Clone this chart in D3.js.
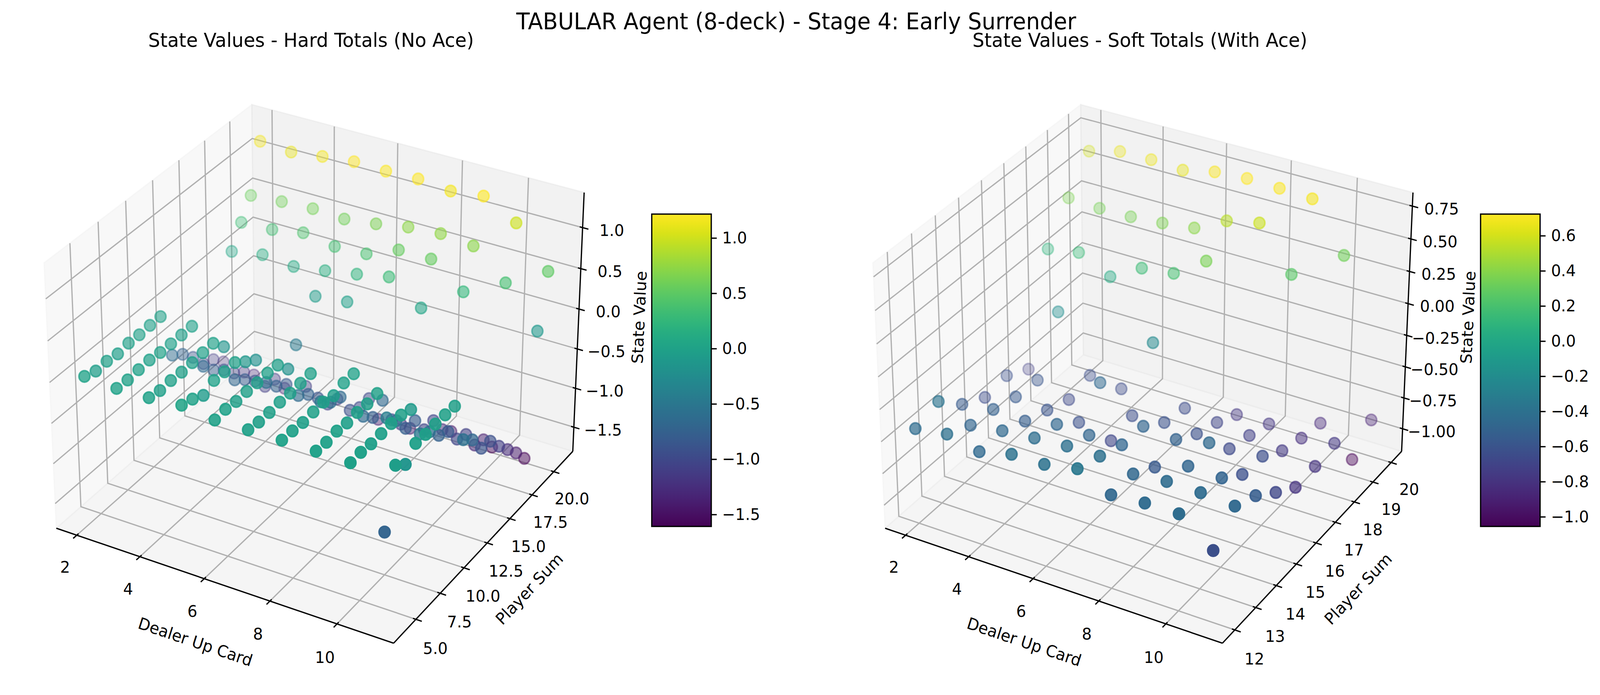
<!DOCTYPE html>
<html>
<head>
<meta charset="utf-8">
<script src="https://cdn.jsdelivr.net/npm/d3@7"></script>
<style>
  html, body { margin: 0; padding: 0; background: #fff; overflow: hidden; width: 100%; height: 100%; }
  svg { display: block; width: 100vw; height: 100vh; }
  text { font-family: "DejaVu Sans", sans-serif; fill: #000; }
</style>
</head>
<body>
<svg id="chart" viewBox="0 0 4274 1779" preserveAspectRatio="none"></svg>
<script>
const suptitle = "TABULAR Agent (8-deck) - Stage 4: Early Surrender";

const dealerCards = [2, 3, 4, 5, 6, 7, 8, 9, 10, 11];
const hardSums = [4, 5, 6, 7, 8, 9, 10, 11, 12, 13, 14, 15, 16, 17, 18, 19, 20, 21];
const softSums = [12, 13, 14, 15, 16, 17, 18, 19, 20];

// one row per dealer card, one column per player sum
const hardValues = [
  [0.015, -0.032, -0.023, -0.043, -0.021, -0.027, -0.019, -0.018, -0.61, -0.71, -0.86, -1.05, -1.11, -1.25, 0.065, 0.33, 0.57, 1.15],
  [-0.008, -0.018, -0.005, 0.002, -0.016, -0.02, -0.02, -0.02, -0.63, -0.79, -0.9, -1.05, -1.15, -1.3, 0.135, 0.35, 0.6, 1.12],
  [0.003, -0.024, -0.015, -0.025, -0.02, -0.009, -0.003, -0.155, -0.68, -0.79, -0.92, -1.1, -1.12, -1.35, 0.1, 0.42, 0.62, 1.17],
  [0.037, -0.004, -0.072, -0.004, -0.011, -0.009, -0.11, -0.2, -0.59, -0.75, -0.84, -0.45, -1.09, -0.055, 0.16, 0.36, 0.6, 1.21],
  [-0.016, -0.002, -0.022, -0.015, -0.022, -0.016, -0.03, -0.19, -0.63, -0.73, -0.89, -1.08, -1.13, -0.01, 0.23, 0.38, 0.65, 1.2],
  [-0.007, -0.03, -0.03, -0.02, -0.025, -0.018, -0.012, -0.47, -0.59, -0.64, -0.92, -1.0, -1.0, -1.38, 0.31, 0.54, 0.72, 1.21],
  [-0.004, -0.01, -0.025, -0.014, -0.01, -0.045, -0.004, -0.004, -0.64, -0.77, -0.67, -1.03, -1.2, -1.37, 0.04, 0.54, 0.75, 1.17],
  [-0.007, -0.018, -0.002, -0.02, -0.009, -0.02, -0.009, -0.42, -0.57, -0.78, -0.8, -1.03, -1.03, -1.26, -1.4, 0.25, 0.71, 1.216],
  [-0.015, -0.01, -0.026, -0.022, -0.016, -0.03, -0.078, -0.49, -0.58, -0.74, -0.81, -1.02, -1.08, -1.33, -1.38, -1.59, 0.37, 1.0],
  [-0.71, -0.034, -0.143, -0.01, -0.02, -0.012, -0.017, -0.027, -0.55, -0.67, -0.89, -0.92, -1.1, -1.26, -1.42, -1.608, -0.11, 0.52]
];

const softValues = [
  [-0.436, -0.378, -0.553, -0.65, -0.626, -0.723, 0.098, 0.367, 0.604],
  [-0.399, -0.485, -0.515, -0.568, -0.585, -0.188, 0.141, 0.353, 0.667],
  [-0.455, -0.449, -0.528, -0.594, -0.663, -0.62, 0.021, 0.355, 0.669],
  [-0.394, -0.425, -0.474, -0.613, -0.451, -0.651, 0.16, 0.375, 0.654],
  [-0.39, -0.407, -0.479, -0.679, -0.635, -0.208, 0.191, 0.406, 0.707],
  [-0.342, -0.404, -0.474, -0.485, -0.61, -0.65, 0.357, 0.53, 0.723],
  [-0.459, -0.46, -0.566, -0.509, -0.62, -0.685, -0.776, 0.583, 0.715],
  [-0.438, -0.435, -0.477, -0.454, -0.658, -0.709, -0.772, 0.258, 0.702],
  [-0.436, -0.438, -0.486, -0.619, -0.635, -0.75, -0.806, -0.841, 0.337],
  [-0.63, -0.457, -0.54, -0.677, -0.798, -0.793, -0.767, -1.055, -0.89]
];

const dealerTicks = [2, 4, 6, 8, 10];
const hardSumTicks = [5, 7.5, 10, 12.5, 15, 17.5, 20];
const softSumTicks = [12, 13, 14, 15, 16, 17, 18, 19, 20];
const hardZTicks = [-1.5, -1, -0.5, 0, 0.5, 1];
const softZTicks = [-1, -0.75, -0.5, -0.25, 0, 0.25, 0.5, 0.75];
const hardBarTicks = [-1.5, -1, -0.5, 0, 0.5, 1];
const softBarTicks = [-1, -0.8, -0.6, -0.4, -0.2, 0, 0.2, 0.4, 0.6];
const hardRange = [-1.608, 1.216];
const softRange = [-1.055, 0.723];

const svg = d3.select("#chart");
const fontTick = 41.67;
const lineW = 3.33;

// view of the 3d box, same numbers matplotlib uses by default
const elev = 30 * Math.PI / 180, azim = -60 * Math.PI / 180, dist = 10;
const boxNorm = Math.hypot(4, 4, 3);
const box = [4, 4, 3].map(d => d * 1.8294640721620434 * 25 / 24 / boxNorm);
const n = [Math.cos(elev) * Math.cos(azim), Math.cos(elev) * Math.sin(azim), Math.sin(elev)];
const uLen = Math.hypot(n[0], n[1]);
const u = [-n[1] / uLen, n[0] / uLen, 0];
const v = [n[1] * u[2] - n[2] * u[1], n[2] * u[0] - n[0] * u[2], n[0] * u[1] - n[1] * u[0]];
const dot = (a, b) => a[0] * b[0] + a[1] * b[1] + a[2] * b[2];

function paddedLim(ext) {
  const m = (ext[1] - ext[0]) * 0.05;
  const lo = ext[0] - m, hi = ext[1] + m, e = (hi - lo) / 48;
  return [lo - e, hi + e];
}

const viridisStops = d3.range(0, 1.0001, 1 / 32);
const defs = svg.append("defs");
defs.append("linearGradient").attr("id", "viridisBar")
    .attr("x1", 0).attr("x2", 0).attr("y1", 1).attr("y2", 0)
  .selectAll("stop").data(viridisStops).join("stop")
    .attr("offset", d => d)
    .attr("stop-color", d => d3.interpolateViridis(d));

function drawPanel(cfg) {
  const g = svg.append("g");
  const xLim = paddedLim(d3.extent(dealerCards));
  const yLim = paddedLim(d3.extent(cfg.sums));
  const zLim = paddedLim(cfg.range);

  const sx = d3.scaleLinear().domain(xLim).range([0, box[0]]);
  const sy = d3.scaleLinear().domain(yLim).range([0, box[1]]);
  const sz = d3.scaleLinear().domain(zLim).range([0, box[2]]);
  const pxX = d3.scaleLinear().domain([0, 1]).range([cfg.cx, cfg.cx + 8670]);
  const pxY = d3.scaleLinear().domain([0, 1]).range([cfg.cy, cfg.cy - 8670]);

  function project(x, y, z) {
    const d = [sx(x) - box[0] / 2, sy(y) - box[1] / 2, sz(z) - box[2] / 2];
    const w = dist - dot(n, d);
    return { x: pxX(dot(u, d) / w), y: pxY(dot(v, d) / w), depth: w };
  }
  const path = pts => d3.line().x(p => p.x).y(p => p.y)(pts);
  const seg = (pts, cls) => g.append("path").attr("d", path(pts)).attr("fill", "none")
    .attr("stroke", cls.color).attr("stroke-width", lineW).attr("stroke-linejoin", "miter");

  const [x0, x1] = xLim, [y0, y1] = yLim, [z0, z1] = zLim;

  // panes
  const panes = [
    { c: "rgba(242,242,242,0.5)", pts: [[x0, y0, z0], [x0, y1, z0], [x0, y1, z1], [x0, y0, z1]] },
    { c: "rgba(230,230,230,0.5)", pts: [[x0, y1, z0], [x1, y1, z0], [x1, y1, z1], [x0, y1, z1]] },
    { c: "rgba(236,236,236,0.5)", pts: [[x0, y0, z0], [x1, y0, z0], [x1, y1, z0], [x0, y1, z0]] }
  ];
  panes.forEach(p => {
    g.append("path")
      .attr("d", path(p.pts.map(q => project(...q))) + "Z")
      .attr("fill", p.c).attr("stroke", p.c).attr("stroke-width", lineW);
  });

  // grid
  const grid = { color: "#b0b0b0" };
  dealerTicks.forEach(t => seg([project(t, y0, z0), project(t, y1, z0), project(t, y1, z1)], grid));
  cfg.sumTicks.forEach(t => seg([project(x1, t, z0), project(x0, t, z0), project(x0, t, z1)], grid));
  cfg.zTicks.forEach(t => seg([project(x0, y0, t), project(x0, y1, t), project(x1, y1, t)], grid));

  // axis lines and tick marks
  const ink = { color: "#000" };
  seg([project(x0, y0, z0), project(x1, y0, z0)], ink);
  seg([project(x1, y0, z0), project(x1, y1, z0)], ink);
  seg([project(x1, y1, z0), project(x1, y1, z1)], ink);

  const dY = (y1 - y0) / 12, dX = (x1 - x0) / 12;
  const tickText = (p, off, s) => g.append("text")
    .attr("x", p.x + off[0]).attr("y", p.y + off[1]).attr("dy", "0.365em")
    .attr("text-anchor", "middle").attr("font-size", fontTick).text(s);
  const fmtMinus = s => s.replace("-", "\u2212");
  // label gaps shrink with distance, like the rest of the perspective
  const farScaled = (p, off) => off.map(d => d * dist / p.depth);

  dealerTicks.forEach(t => {
    seg([project(t, y0 + 0.1 * dY, z0), project(t, y0 - 0.2 * dY, z0)], ink);
    const p = project(t, y0, z0);
    tickText(p, farScaled(p, [-31, 81]), String(t));
  });
  cfg.sumTicks.forEach(t => {
    seg([project(x1 - 0.1 * dX, t, z0), project(x1 + 0.2 * dX, t, z0)], ink);
    const p = project(x1, t, z0);
    tickText(p, farScaled(p, [50, 70.5]), cfg.sumFmt(t));
  });
  cfg.zTicks.forEach(t => {
    seg([project(x1 - 0.1 * dX, y1, t), project(x1 + 0.2 * dX, y1, t)], ink);
    tickText(project(x1, y1, t), [78, 6], fmtMinus(cfg.zFmt(t)));
  });

  // axis labels, turned along their axis
  const axisLabel = (a, b, off, s) => {
    const pa = project(...a), pb = project(...b);
    const mid = project((a[0] + b[0]) / 2, (a[1] + b[1]) / 2, (a[2] + b[2]) / 2);
    let ang = Math.atan2(pb.y - pa.y, pb.x - pa.x) * 180 / Math.PI;
    if (ang > 90) ang -= 180;
    if (ang < -90) ang += 180;
    const lx = mid.x + off[0], ly = mid.y + off[1];
    g.append("text").attr("transform", `translate(${lx},${ly}) rotate(${ang})`)
      .attr("dy", "0.365em").attr("text-anchor", "middle")
      .attr("font-size", fontTick).text(s);
  };
  axisLabel([x0, y0, z0], [x1, y0, z0], [-67, 147], "Dealer Up Card");
  axisLabel([x1, y0, z0], [x1, y1, z0], [112, 117], "Player Sum");
  axisLabel([x1, y1, z0], [x1, y1, z1], [162, -19], "State Value");

  // points, far ones first, faded with depth
  const color = d3.scaleSequential(d3.interpolateViridis).domain(cfg.range);
  const points = [];
  dealerCards.forEach((dc, i) => cfg.sums.forEach((ps, j) => {
    const val = cfg.values[i][j];
    points.push(Object.assign(project(dc, ps, val), { val }));
  }));
  const fade = d3.scaleLinear().domain(d3.extent(points, d => d.depth)).range([1, 0.3]);
  points.sort((a, b) => b.depth - a.depth);
  g.selectAll("circle.pt").data(points).join("circle")
    .attr("class", "pt")
    .attr("cx", d => d.x).attr("cy", d => d.y).attr("r", 14.7)
    .attr("fill", d => color(d.val)).attr("stroke", d => color(d.val))
    .attr("stroke-width", 4.17)
    .attr("fill-opacity", d => fade(d.depth)).attr("stroke-opacity", d => fade(d.depth));

  // title
  g.append("text").attr("x", cfg.cx - 22).attr("y", 120)
    .attr("text-anchor", "middle").attr("font-size", 50).text(cfg.title);

  // colorbar
  const barX = cfg.barX, barW = 159, barTop = 548, barBottom = 1347.5;
  const barScale = d3.scaleLinear().domain(cfg.range).range([barBottom, barTop]);
  g.append("rect").attr("x", barX).attr("y", barTop)
    .attr("width", barW).attr("height", barBottom - barTop)
    .attr("fill", "url(#viridisBar)");
  const barAxis = d3.axisRight(barScale).tickValues(cfg.barTicks)
    .tickFormat(t => fmtMinus(t.toFixed(1))).tickSize(14.6).tickPadding(14.6);
  const ga = g.append("g").attr("transform", `translate(${barX + barW},0)`).call(barAxis);
  ga.select(".domain").remove();
  ga.selectAll(".tick line").attr("stroke", "#000").attr("stroke-width", lineW);
  ga.selectAll(".tick text").attr("font-size", fontTick)
    .attr("font-family", '"DejaVu Sans"').attr("fill", "#000");
  g.append("rect").attr("x", barX).attr("y", barTop)
    .attr("width", barW).attr("height", barBottom - barTop)
    .attr("fill", "none").attr("stroke", "#000").attr("stroke-width", lineW);
}

drawPanel({
  cx: 853, cy: 924, barX: 1741,
  title: "State Values - Hard Totals (No Ace)",
  sums: hardSums, values: hardValues, range: hardRange,
  sumTicks: hardSumTicks, zTicks: hardZTicks, barTicks: hardBarTicks,
  sumFmt: t => t.toFixed(1), zFmt: t => t.toFixed(1)
});
drawPanel({
  cx: 3067, cy: 924, barX: 3955,
  title: "State Values - Soft Totals (With Ace)",
  sums: softSums, values: softValues, range: softRange,
  sumTicks: softSumTicks, zTicks: softZTicks, barTicks: softBarTicks,
  sumFmt: t => String(t), zFmt: t => t.toFixed(2)
});

svg.append("text").attr("x", 2127).attr("y", 75)
  .attr("text-anchor", "middle").attr("font-size", 58.33).text(suptitle);
</script>
</body>
</html>
